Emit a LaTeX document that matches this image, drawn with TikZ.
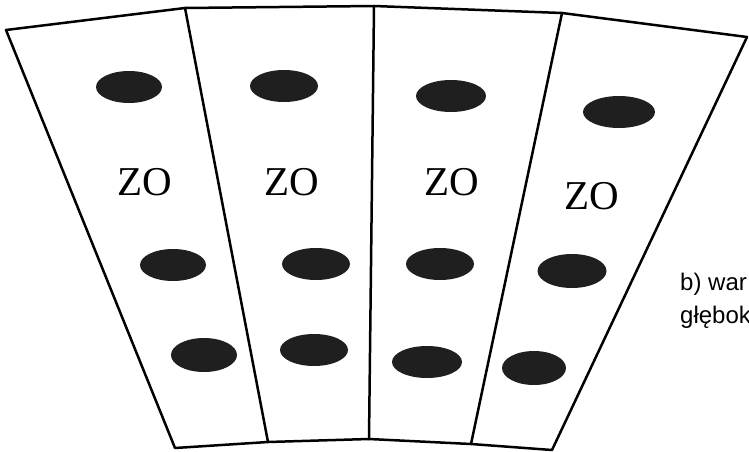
\documentclass[tikz,border=0pt]{standalone}
\usepackage{fontspec}
\setmainfont{Liberation Serif}
\newfontfamily\arialfont{Liberation Sans}
\usetikzlibrary{positioning, shapes.geometric}

\begin{document}
\begin{tikzpicture}[
    x=1pt, y=-1pt,
    edge/.style={line width=2.5pt, line join=round, line cap=round},
    blob/.style={ellipse, fill=black!88, inner sep=0pt, minimum width=66pt, minimum height=32pt},
    zone/.style={font=\fontsize{41}{41}\selectfont, inner sep=0pt},
    note/.style={font=\arialfont\fontsize{24}{24}\selectfont, anchor=base west, inner sep=0pt}
]

    % Canvas
    \useasboundingbox (0, 0) rectangle (749, 452);

    % Top edge
    \coordinate (t0) at (6, 30);
    \coordinate (t1) at (185, 8);
    \coordinate (t2) at (374, 6);
    \coordinate (t3) at (562, 13);
    \coordinate (t4) at (747, 37);

    % Bottom edge
    \coordinate (b0) at (175, 448);
    \coordinate (b1) at (268, 442);
    \coordinate (b2) at (369, 439);
    \coordinate (b3) at (471, 444);
    \coordinate (b4) at (552, 450);

    % Outline
    \draw[edge] (t0) -- (t1) -- (t2) -- (t3) -- (t4) -- (b4) -- (b3) -- (b2) -- (b1) -- (b0) -- cycle;

    % Dividers
    \draw[edge] (t1) -- (b1);
    \draw[edge] (t2) -- (b2);
    \draw[edge] (t3) -- (b3);

    % Column 1
    \node[blob] (e11) at (129, 87) {};
    \node[zone] (zo1) at (145, 182) {ZO};
    \node[blob] (e12) at (173, 265) {};
    \node[blob, minimum height=34pt] (e13) at (204, 355) {};

    % Column 2
    \node[blob, minimum width=68pt] (e21) at (284, 86) {};
    \node[zone] (zo2) at (292, 182) {ZO};
    \node[blob, minimum width=68pt] (e22) at (316, 264) {};
    \node[blob, minimum width=68pt] (e23) at (314, 350) {};

    % Column 3
    \node[blob, minimum width=70pt] (e31) at (451, 96) {};
    \node[zone] (zo3) at (452, 182) {ZO};
    \node[blob, minimum width=68pt] (e32) at (440, 264) {};
    \node[blob, minimum width=70pt] (e33) at (427, 362) {};

    % Column 4
    \node[blob, minimum width=72pt] (e41) at (619, 112) {};
    \node[zone] (zo4) at (592, 196) {ZO};
    \node[blob, minimum width=69pt, minimum height=34pt] (e42) at (572, 271) {};
    \node[blob, minimum width=64pt, minimum height=34pt] (e43) at (534, 368) {};

    % Caption (cut at the right margin)
    \node[note] (cap1) at (680, 290) {b) war};
    \node[note] (cap2) at (680, 323) {głębok};

\end{tikzpicture}
\end{document}
